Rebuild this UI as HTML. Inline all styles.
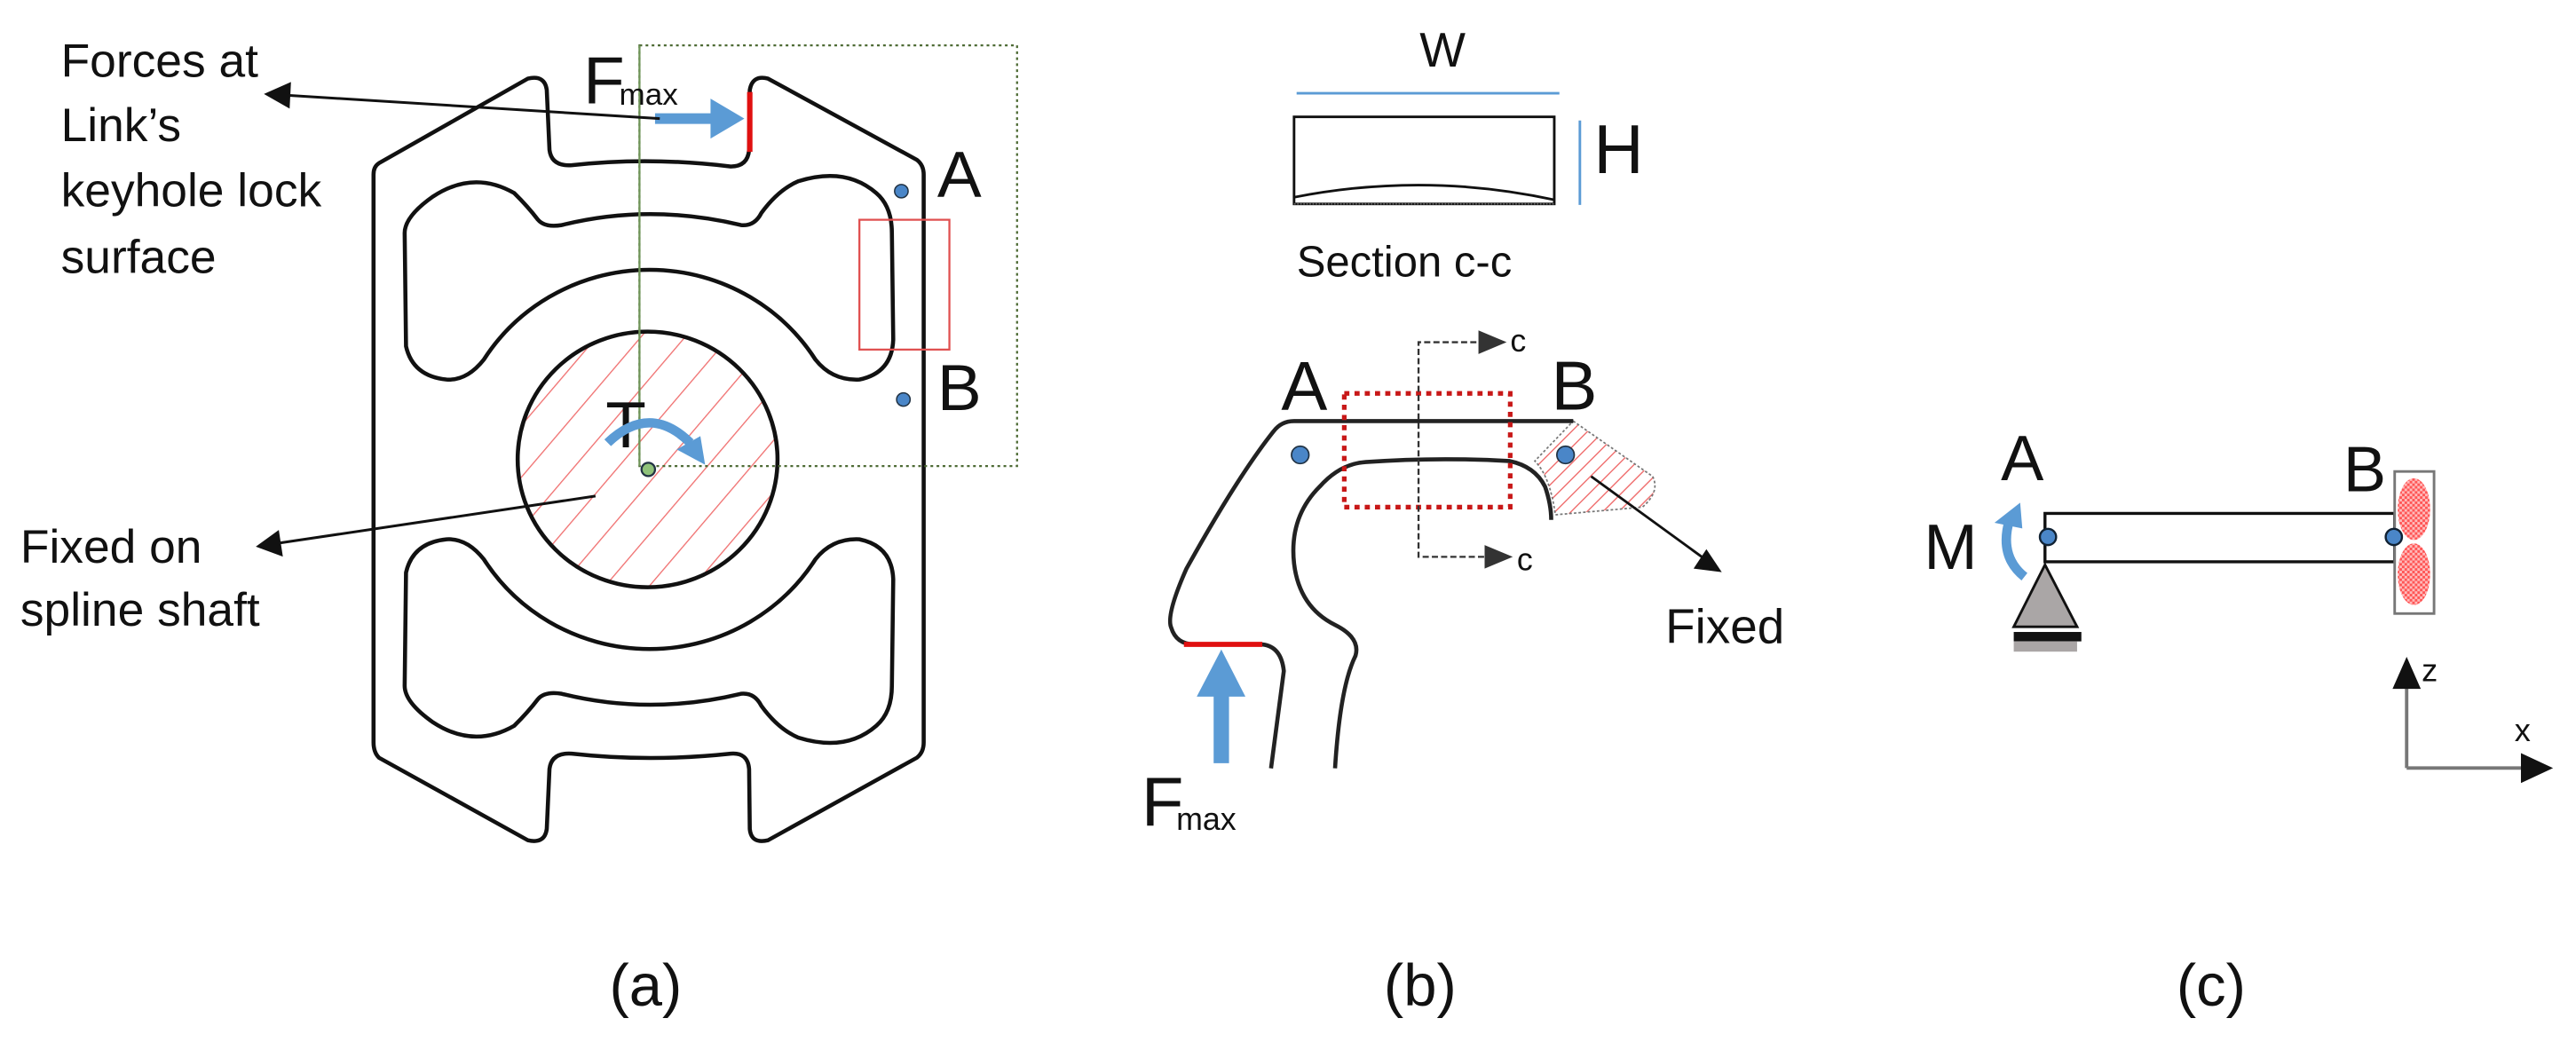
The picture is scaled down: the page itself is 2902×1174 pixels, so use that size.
<!DOCTYPE html>
<html><head><meta charset="utf-8"><style>
html,body{margin:0;padding:0;background:#fff;}
svg{display:block;}
text{font-family:"Liberation Sans",sans-serif;fill:#111;}
</style></head><body>
<svg width="2902" height="1174" viewBox="0 0 1560 631" xmlns="http://www.w3.org/2000/svg">
<defs>
 <pattern id="ha" patternUnits="userSpaceOnUse" width="50" height="50" patternTransform="rotate(40)">
  <line x1="0" y1="0" x2="0" y2="50" stroke="#f07070" stroke-width="3.5"/></pattern>
 <pattern id="hb" patternUnits="userSpaceOnUse" width="22" height="22" patternTransform="rotate(45)">
  <line x1="0" y1="0" x2="0" y2="22" stroke="#f07070" stroke-width="5"/></pattern>
 <pattern id="hc" patternUnits="userSpaceOnUse" width="12" height="12">
  <rect width="12" height="12" fill="#fbb"/><rect width="6" height="6" fill="#f55"/><rect x="6" y="6" width="6" height="6" fill="#f55"/></pattern>
</defs>

<!-- Panel (a) -->
<g transform="scale(0.4098,0.4032)">
 <path d="M560,245 L780,118 Q805,112 808,135 L812,225 Q815,250 845,248 Q960,235 1080,250 Q1105,250 1107,225 L1108,135 Q1112,112 1135,118 L1355,240 Q1365,248 1365,262 L1365,1115 Q1365,1130 1355,1138 L1135,1262 Q1110,1268 1108,1245 L1107,1155 Q1105,1130 1080,1132 Q960,1145 845,1132 Q815,1130 812,1155 L808,1245 Q805,1268 780,1262 L560,1138 Q552,1130 552,1115 L552,262 Q552,250 560,245 Z" fill="none" stroke="#111" stroke-width="6"/>
 <g id="slot">
 <path d="M640,295 Q700,255 760,290 Q780,310 795,330 Q805,342 830,338 Q960,305 1095,338 Q1115,340 1125,320 Q1150,285 1180,272 Q1250,250 1295,290 Q1318,310 1318,350 L1320,510 Q1318,560 1270,570 Q1230,572 1205,540 A290,290 0 0 0 715,540 Q690,572 660,570 Q610,565 600,520 L598,350 Q598,325 640,295 Z" fill="none" stroke="#111" stroke-width="6"/>
 </g>
 <use href="#slot" transform="translate(0,1380) scale(1,-1)"/>
 <circle cx="957" cy="690" r="190" fill="url(#ha)"/>
 <circle cx="957" cy="690" r="192" fill="none" stroke="#111" stroke-width="6"/>
 <rect x="945" y="68" width="558" height="632" fill="none" stroke="#4e6b35" stroke-width="3" stroke-dasharray="4,5"/>
 <line x1="945" y1="68" x2="945" y2="700" stroke="#6f9458" stroke-width="3"/>
 <rect x="1270" y="330" width="133" height="195" fill="none" stroke="#e05050" stroke-width="3"/>
 <circle cx="958" cy="705" r="10" fill="#8fc27a" stroke="#234" stroke-width="3"/>
 <circle cx="1332" cy="287" r="10" fill="#4a86c8" stroke="#234" stroke-width="2"/>
 <circle cx="1335" cy="600" r="10" fill="#4a86c8" stroke="#234" stroke-width="2"/>
 <text x="1385" y="296" font-size="98">A</text>
 <text x="1385" y="616" font-size="98">B</text>
 <line x1="1108" y1="138" x2="1108" y2="228" stroke="#e01010" stroke-width="8"/>
 <path d="M968,170 L1050,170 L1050,148 L1100,178 L1050,208 L1050,186 L968,186 Z" fill="#5b9bd5"/>
 <text x="862" y="155" font-size="100">F</text>
 <text x="915" y="157" font-size="46">max</text>
 <line x1="975" y1="178" x2="425" y2="143" stroke="#111" stroke-width="4"/>
 <path d="M390,141 L430,123 L428,163 Z" fill="#111"/>
 <text font-size="70"><tspan x="90" y="115">Forces at</tspan><tspan x="90" y="212">Link’s</tspan><tspan x="90" y="310">keyhole lock</tspan><tspan x="90" y="410">surface</tspan></text>
 <text font-size="70"><tspan x="30" y="845">Fixed on</tspan><tspan x="30" y="940">spline shaft</tspan></text>
 <line x1="880" y1="745" x2="410" y2="816" stroke="#111" stroke-width="4"/>
 <path d="M378,821 L412,796 L418,836 Z" fill="#111"/>
 <text x="895" y="672" font-size="98">T</text>
 <path d="M898,665 Q960,605 1020,665" fill="none" stroke="#5b9bd5" stroke-width="14"/>
 <path d="M1000,675 L1035,655 L1042,698 Z" fill="#5b9bd5"/>
</g>
<text x="391" y="609" font-size="36" text-anchor="middle">(a)</text>

<!-- Panel (b) -->
<g transform="translate(672,0) scale(0.3102)">
 <text x="650" y="130" font-size="95" text-anchor="middle">W</text>
 <line x1="365" y1="182" x2="878" y2="182" stroke="#5b9bd5" stroke-width="5"/>
 <rect x="360" y="228" width="508" height="170" fill="none" stroke="#111" stroke-width="5"/>
 <path d="M360,385 Q615,335 868,390" fill="none" stroke="#111" stroke-width="5"/>
 <line x1="360" y1="398" x2="868" y2="398" stroke="#666" stroke-width="3" stroke-dasharray="3,3"/>
 <line x1="918" y1="235" x2="918" y2="400" stroke="#5b9bd5" stroke-width="5"/>
 <text x="945" y="338" font-size="135">H</text>
 <text x="365" y="540" font-size="85">Section  c-c</text>
 <text x="335" y="800" font-size="135">A</text>
 <text x="862" y="800" font-size="135">B</text>
 <path d="M905,822 L1060,930 Q1075,960 1040,990 L870,1005 Q860,930 830,900 Z" fill="url(#hb)" stroke="#777" stroke-width="3" stroke-dasharray="5,4"/>
 <path d="M905,822 L360,822 Q335,822 320,842 Q250,930 150,1110 Q110,1200 120,1225 Q130,1258 165,1258 L298,1258 Q335,1262 340,1310 L315,1500" fill="none" stroke="#222" stroke-width="8"/>
 <path d="M440,1500 Q450,1340 480,1280 Q490,1245 440,1220 Q370,1185 360,1100 Q350,1010 410,950 Q450,905 500,902 Q640,892 780,900 Q830,910 850,950 Q862,985 862,1015" fill="none" stroke="#222" stroke-width="8"/>
 <line x1="145" y1="1258" x2="298" y2="1258" stroke="#e01010" stroke-width="10"/>
 <path d="M203,1490 L203,1360 L170,1360 L218,1268 L265,1360 L233,1360 L233,1490 Z" fill="#5b9bd5"/>
 <circle cx="372" cy="888" r="17" fill="#4a86c8" stroke="#234" stroke-width="3"/>
 <circle cx="890" cy="888" r="17" fill="#4a86c8" stroke="#234" stroke-width="3"/>
 <rect x="458" y="768" width="324" height="222" fill="none" stroke="#c81818" stroke-width="9" stroke-dasharray="10,10"/>
 <path d="M770,668 L603,668 L603,1087 L740,1087" fill="none" stroke="#333" stroke-width="4" stroke-dasharray="12,6"/>
 <path d="M720,645 L775,668 L720,691 Z" fill="#333"/>
 <path d="M732,1064 L787,1087 L732,1110 Z" fill="#333"/>
 <text x="782" y="686" font-size="62">c</text>
 <text x="795" y="1113" font-size="62">c</text>
 <line x1="940" y1="930" x2="1160" y2="1090" stroke="#111" stroke-width="5"/>
 <path d="M1195,1117 L1140,1110 L1165,1072 Z" fill="#111"/>
 <text x="1085" y="1255" font-size="95">Fixed</text>
 <text x="62" y="1612" font-size="135">F</text>
 <text x="130" y="1620" font-size="62">max</text>
</g>
<text x="860" y="609" font-size="36" text-anchor="middle">(b)</text>

<!-- Panel (c) -->
<g transform="translate(1156,215) scale(0.2592)">
 <text x="215" y="292" font-size="150">A</text>
 <text x="1015" y="318" font-size="150">B</text>
 <text x="35" y="500" font-size="150">M</text>
 <rect x="318" y="370" width="817" height="113" fill="none" stroke="#111" stroke-width="7"/>
 <rect x="1135" y="272" width="92" height="332" fill="#fff" stroke="#777" stroke-width="6"/>
 <ellipse cx="1180" cy="360" rx="38" ry="72" fill="url(#hc)"/>
 <ellipse cx="1180" cy="512" rx="38" ry="72" fill="url(#hc)"/>
 <path d="M318,490 L393,635 L245,635 Z" fill="#aaa6a6" stroke="#111" stroke-width="6"/>
 <rect x="245" y="647" width="158" height="22" fill="#111"/>
 <rect x="245" y="669" width="148" height="24" fill="#aaa6a6"/>
 <circle cx="325" cy="425" r="19" fill="#4a86c8" stroke="#123" stroke-width="5"/>
 <circle cx="1133" cy="425" r="19" fill="#4a86c8" stroke="#123" stroke-width="5"/>
 <path d="M270,518 Q210,470 235,385" fill="none" stroke="#5b9bd5" stroke-width="22"/>
 <path d="M200,392 L260,345 L265,405 Z" fill="#5b9bd5"/>
 <path d="M1163,965 L1163,770 M1163,965 L1440,965" fill="none" stroke="#777" stroke-width="8"/>
 <path d="M1130,780 L1163,705 L1196,780 Z" fill="#111"/>
 <path d="M1430,930 L1505,965 L1430,1000 Z" fill="#111"/>
 <text x="1198" y="762" font-size="75" fill="#234">z</text>
 <text x="1415" y="902" font-size="75">x</text>
</g>
<text x="1339" y="609" font-size="36" text-anchor="middle">(c)</text>
</svg>
</body></html>
